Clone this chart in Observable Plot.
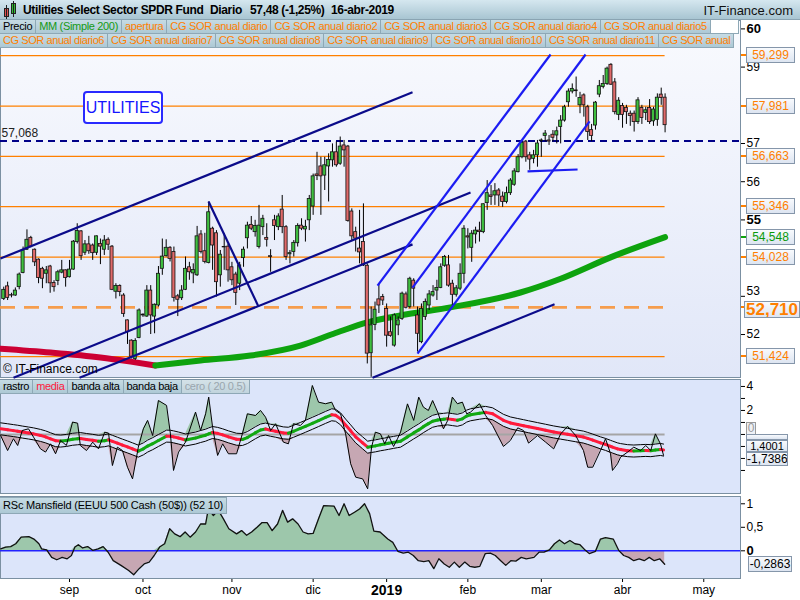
<!DOCTYPE html>
<html><head><meta charset="utf-8">
<script src="https://cdn.jsdelivr.net/npm/d3@7"></script>
<script src="https://cdn.jsdelivr.net/npm/@observablehq/plot@0.6"></script>
<style>
html,body{margin:0;padding:0;background:#fff;}
#root{position:relative;width:800px;height:600px;overflow:hidden;background:#fff;font-family:"Liberation Sans",Arial,Helvetica,sans-serif;color:#000;}
#root svg{position:absolute;left:0;}
.abs{position:absolute;}
.tabrow{position:absolute;left:0;display:flex;overflow:hidden;white-space:nowrap;}
.tab{flex:none;height:13px;line-height:13px;padding:0 3px;font-size:11px;letter-spacing:-0.33px;border-right:1px solid #8ea8b6;border-bottom:1px solid #8ea8b6;background:linear-gradient(#c6dbe4,#adc9d5);}
.tag{position:absolute;box-sizing:border-box;border:1px solid #8596aa;background:linear-gradient(#f8fafd,#dde5f1);text-align:center;font-size:12px;white-space:nowrap;overflow:hidden;}
</style></head><body><div id="root"></div>
<script>
// ---------------- DATA ----------------
const firstBar = -17; // trading-day index of first candle (0 = first session of September 2018)
const openV = [52.93,53.26,53.03,53.02,53.24,53.61,54.22,54.53,54.22,53.96,53.72,53.59,53.78,53.35,53.40,53.62,53.68,
53.50,53.70,54.42,54.70,54.14,54.36,54.33,54.14,54.37,54.22,
54.48,54.30,53.12,53.27,53.02,52.37,51.84,51.36,51.91,52.50,
52.47,53.15,52.47,52.76,53.72,54.05,54.27,54.16,53.00,52.95,
53.17,53.76,53.60,53.55,54.62,54.18,53.87,54.77,54.65,53.55,
54.28,54.30,53.76,53.57,53.33,54.00,54.52,54.87,54.68,54.29,
54.81,54.53,54.05,54.99,54.81,55.27,54.81,54.10,54.16,54.39,
54.85,54.75,54.99,55.35,56.19,56.40,56.16,56.40,56.56,56.77,
56.47,56.95,56.92,55.22,54.68,54.25,54.42,53.80,51.51,52.25,
52.92,52.98,52.67,52.06,51.71,52.24,52.41,53.05,52.72,53.41,
52.50,51.80,52.46,52.76,53.02,53.15,53.22,53.80,53.81,53.33,
53.04,53.20,53.59,54.57,54.27,54.62,54.72,54.68,55.44,55.64,
55.64,55.77,55.61,55.47,55.70,55.92,56.25,56.64,57.05,56.69,
56.60,56.69,57.06,57.20,57.08,57.23,57.21,57.43,57.60,58.08,
58.36,58.39,58.00,58.26,57.95,57.35,57.47,58.28,58.48,58.56,
59.06,58.60,57.75,57.98,57.93,57.78,57.78,57.56,57.93,57.80,
57.93,57.58,57.62,58.28,58.20];
const highV = [53.24,53.37,53.08,53.22,53.61,54.29,54.74,54.57,54.24,53.98,53.76,53.78,53.81,53.41,53.68,53.94,53.69,
53.94,54.46,54.90,54.72,54.46,54.57,54.37,54.58,54.50,54.59,
54.53,54.33,53.33,53.30,53.07,52.38,51.86,51.89,52.67,52.54,
53.28,53.28,52.80,53.78,54.50,54.48,54.30,54.29,53.05,53.28,
54.03,53.89,53.85,54.83,54.72,54.65,55.47,54.81,54.72,54.20,
54.64,54.36,53.89,53.63,53.89,54.29,54.94,55.09,54.99,55.38,
55.12,54.90,54.22,55.12,55.16,55.64,54.85,54.20,54.46,54.90,
55.03,54.99,55.64,56.20,56.77,56.64,56.64,56.73,56.99,57.04,
57.17,57.08,56.95,55.29,54.81,55.25,55.42,53.85,52.72,52.85,
53.33,53.05,52.80,52.46,52.54,52.46,53.11,53.11,53.50,53.46,
52.72,52.80,52.93,53.15,53.28,53.42,53.85,54.07,54.07,53.42,
53.28,53.85,54.85,54.77,54.72,54.81,54.94,55.42,56.03,55.90,
55.95,55.82,55.73,55.86,56.08,56.34,56.71,57.05,57.08,56.77,
56.82,57.08,57.12,57.34,57.21,57.34,57.43,57.73,58.00,58.43,
58.56,58.74,58.34,58.30,58.00,57.50,58.10,58.65,58.78,59.00,
59.09,58.70,58.20,58.05,58.00,57.85,57.85,58.20,58.00,57.95,
58.15,57.95,58.30,58.45,58.30];
const lowV = [52.89,52.89,52.96,53.00,53.17,53.59,54.20,54.27,53.78,53.33,53.20,53.33,53.08,53.11,53.28,53.59,53.24,
53.48,53.68,54.37,53.94,54.07,54.10,53.94,54.07,53.83,54.07,
54.20,53.15,52.93,52.99,52.45,51.74,51.36,51.32,51.89,52.45,
52.45,52.00,52.02,52.72,53.55,54.03,53.90,52.85,52.47,52.89,
53.15,53.42,53.33,53.52,54.11,53.85,53.85,53.68,52.98,53.24,
53.68,53.37,53.28,52.76,53.15,53.76,54.24,54.72,54.55,54.24,
54.59,54.29,53.63,54.46,54.72,54.64,53.94,53.85,54.03,54.29,
54.72,54.42,54.72,55.12,56.03,55.12,55.77,55.47,56.38,56.38,
56.43,56.38,54.94,54.46,54.16,53.85,53.78,51.23,50.88,52.10,
52.55,52.76,51.67,51.93,51.67,51.97,52.37,52.67,52.67,52.72,
51.54,51.76,52.37,52.63,52.98,52.89,53.20,53.76,53.24,52.72,
52.98,53.15,53.33,54.24,53.89,54.37,54.42,54.64,55.25,55.38,
55.38,55.35,55.33,55.42,55.64,55.88,56.23,56.60,56.51,56.30,
56.47,56.38,56.64,57.04,56.95,57.04,56.99,56.99,57.56,57.95,
58.30,58.21,57.78,57.69,57.08,57.05,57.35,58.20,58.43,58.52,
58.52,57.75,57.60,57.40,57.50,57.45,57.30,57.50,57.50,57.60,
57.50,57.45,57.45,58.00,57.28];
const closeV = [53.17,52.96,53.02,53.15,53.57,54.20,54.48,54.30,53.89,53.48,53.46,53.68,53.34,53.24,53.63,53.68,53.48,
53.70,54.43,54.71,54.05,54.36,54.18,54.13,54.57,54.30,54.46,
54.35,53.17,53.27,53.11,52.54,52.06,51.42,51.83,52.63,52.52,
53.15,52.50,52.78,53.59,54.04,54.27,53.98,52.96,52.91,53.15,
53.72,53.63,53.69,54.57,54.16,53.90,55.20,54.33,53.37,54.09,
54.29,53.68,53.42,53.09,53.81,54.22,54.85,54.77,54.84,54.85,
55.03,54.48,54.03,54.84,55.09,54.81,54.03,54.13,54.40,54.84,
54.77,54.82,55.55,56.14,56.15,56.14,56.43,56.57,56.77,56.43,
56.92,56.82,54.97,54.57,54.51,54.15,53.81,51.50,52.24,52.65,
52.76,52.89,51.97,51.96,52.50,52.37,53.07,52.70,53.46,53.20,
52.02,52.67,52.85,53.05,53.11,53.22,53.76,54.03,53.28,53.04,
53.21,53.59,54.77,54.54,54.64,54.72,54.68,55.41,55.70,55.60,
55.75,55.64,55.47,55.70,56.03,56.27,56.64,57.02,56.64,56.58,
56.69,57.00,57.08,57.26,57.05,57.15,57.32,57.60,57.95,58.36,
58.43,58.37,58.19,58.00,57.30,57.20,58.07,58.50,58.56,58.96,
58.54,57.82,58.12,57.75,57.82,57.72,57.56,58.13,57.67,57.87,
57.56,57.89,58.20,58.19,57.48];

const monthIdx = [0, 19, 42, 63, 82, 103, 122, 143, 164];
const monthLabel = ["sep", "oct", "nov", "dic", "2019", "feb", "mar", "abr", "may"];

const pivotLevels = [59.299, 57.981, 56.663, 55.346, 54.028, 51.424];
const pivotMain = 52.710;
const refLevel = 57.068;

const ma200RedIdx = [-17.8, -4.9, 8.0, 15.8, 22.2];
const ma200RedVal = [51.63, 51.53, 51.40, 51.29, 51.19];
const ma200GreenIdx = [22.2, 33.9, 46.8, 59.7, 68.3, 77.0, 85.6, 98.5, 116.6, 127.0, 139.9, 154];
const ma200GreenVal = [51.19, 51.32, 51.45, 51.71, 52.02, 52.32, 52.50, 52.71, 53.10, 53.46, 54.02, 54.548];

// trend lines: [index1, price1, index2, price2]
const navyLines = [[-17.84,53.99,88.70,58.34],[-14.48,50.87,103.7,55.72],[2.59,50.87,88.70,54.36],[35.95,55.48,48.88,52.73],[78.36,50.87,125.42,52.79]];
const blueLines = [[79.65,53.28,124.39,59.33],[88.70,53.23,133.44,59.33],[89.99,51.50,134.47,57.58],[118.44,56.27,131.37,56.32]];

const oscIdx = [-17.8,-16.0,-14.5,-13.4,-12.2,-10.6,-9.3,-7.5,-6.2,-4.9,-3.6,-2.3,-0.8,0.8,2.1,2.8,4.4,6.0,7.5,9.1,10.1,11.1,12.4,13.7,15.0,16.3,17.8,19.1,20.2,21.5,23.0,25.1,26.1,26.9,28.2,30.0,32.6,33.9,35.2,36.0,37.0,38.3,39.6,41.1,43.2,44.7,46.0,48.1,49.4,50.7,52.0,53.3,55.3,56.6,57.9,59.7,61.0,62.8,64.4,66.2,67.8,68.8,70.1,71.4,72.7,74.0,75.8,77.1,78.1,79.1,80.4,81.5,82.5,83.8,84.8,85.6,87.4,89.0,90.3,91.5,92.8,93.9,95.2,96.7,97.8,99.0,100.3,101.6,102.7,103.7,106.0,107.6,109.4,112.2,114.0,115.9,117.4,118.7,121.0,123.1,125.2,127.0,128.8,130.9,132.9,134.0,135.3,137.3,138.6,139.9,140.4,141.7,142.5,144.3,145.9,147.7,149.0,150.3,151.5,152.8,153.6];
const oscRaw = [-0.09,-1.34,-0.36,-0.92,0.33,0.47,-0.22,-1.2,-1.47,-0.78,-1.61,-0.5,-0.92,1.03,0.94,-0.92,-1.34,-0.64,-1.2,0.19,0.11,-2.59,-1.06,-1.34,-2.73,-3.7,-1.06,0.47,1.17,-0.09,2.83,2.42,0.05,-3.0,-1.47,-0.64,1.86,0.33,1.72,3.11,0.61,-1.75,-0.78,-1.61,-1.61,0.05,1.72,1.58,2.0,1.44,0.33,0.89,-0.64,-0.78,0.89,0.75,1.17,4.08,2.69,2.56,2.69,2.0,1.72,0.05,-2.44,-3.56,-3.7,-4.53,-1.06,0.19,0.05,-0.78,-0.09,-1.0,-0.36,0.19,2.55,1.17,3.11,2.28,2.0,2.83,1.86,0.47,1.17,3.11,2.56,2.69,1.72,1.86,2.56,1.58,0.75,-1.0,-0.5,0.55,0.33,-0.72,-0.09,-0.64,-1.2,0.05,0.67,-0.09,-1.34,-2.73,-2.73,-1.34,-0.36,-1.61,-3.0,-2.44,-1.89,-1.47,-1.06,-1.34,-0.92,-1.34,0.05,-0.78,-1.7386];
const oscMedia = [0.47,0.39,0.32,0.27,0.2,0.12,0.05,-0.08,-0.2,-0.36,-0.52,-0.55,-0.5,-0.4,-0.36,-0.34,-0.42,-0.49,-0.57,-0.52,-0.45,-0.57,-0.73,-0.89,-1.04,-1.2,-1.39,-1.2,-0.97,-0.77,-0.5,-0.14,-0.15,-0.2,-0.3,-0.46,-0.3,-0.17,-0.06,0.05,0.16,0.09,-0.03,-0.2,-0.4,-0.42,-0.26,0.15,0.37,0.45,0.35,0.27,0.13,0.1,0.26,0.5,0.68,0.93,1.16,1.42,1.64,1.6,1.3,0.78,0.3,-0.2,-0.7,-1.06,-1.0,-0.95,-0.86,-0.8,-0.74,-0.66,-0.6,-0.56,-0.2,0.13,0.38,0.65,0.9,1.1,1.2,1.26,1.3,1.24,1.18,1.3,1.53,1.64,1.77,1.84,1.72,1.18,0.96,0.83,0.73,0.64,0.49,0.35,0.21,0.11,0.01,-0.11,-0.22,-0.33,-0.47,-0.7,-0.83,-0.99,-1.05,-1.2,-1.26,-1.35,-1.38,-1.35,-1.33,-1.35,-1.3,-1.25,-1.3];
const bandWidth = 0.5; // "cero ( 20 0.5)"
const oscTicks = [-3, -2, -1, 0, 1, 2, 3, 4];
const oscLabelled = [2, 4];
const oscTagLabel = "1,4001";

const rscIdx = [-17.8,-16.5,-15.2,-13.9,-12.5,-10.5,-9.2,-7.9,-7.2,-5.9,-4.6,-3.3,-1.9,-0.6,0.5,1.4,2.3,3.4,4.7,6.0,7.4,8.7,10.0,11.3,13.3,15.3,16.6,18.0,19.3,20.6,21.9,23.3,24.6,25.9,27.2,28.6,29.9,31.2,32.6,33.9,35.2,35.9,37.2,38.5,39.8,41.2,43.2,44.5,45.8,47.1,48.5,49.8,51.1,52.4,53.8,55.1,56.4,57.7,59.1,60.4,61.7,63.0,64.4,65.7,68.4,69.7,71.0,72.3,73.7,75.0,76.3,77.6,78.7,80.3,82.3,83.6,84.9,86.3,87.6,88.9,90.2,91.6,92.9,94.2,95.5,96.9,98.2,99.5,100.8,102.2,103.5,104.8,106.1,107.5,108.8,110.1,111.5,112.8,114.1,115.4,116.8,118.1,120.1,121.4,122.7,124.1,125.4,126.7,128.0,129.4,130.7,132.0,133.4,134.4,136.0,137.3,138.6,140.6,142.0,143.3,144.6,145.9,147.3,148.6,149.9,151.2,152.6,153.9];
const rscVal = [0.04,0.08,0.09,0.15,0.29,0.30,0.25,0.15,0.04,0.02,-0.14,-0.19,-0.14,-0.17,-0.10,0.08,0.13,0.06,0.09,0.01,0.04,0.09,-0.03,-0.21,-0.31,-0.42,-0.51,-0.38,-0.28,-0.24,-0.10,0.08,0.15,0.47,0.36,0.30,0.40,0.29,0.40,0.57,0.57,0.89,0.75,0.86,0.68,0.47,0.36,0.43,0.33,0.40,0.50,0.60,0.60,0.43,0.57,0.86,0.61,0.68,0.57,0.40,0.36,0.37,0.68,0.96,0.95,0.75,1.0,0.75,0.82,0.89,1.0,0.79,0.42,0.40,0.25,0.18,-0.01,-0.05,-0.03,-0.10,-0.21,-0.23,-0.21,-0.38,-0.17,-0.28,-0.35,-0.24,-0.35,-0.24,-0.33,-0.35,-0.33,-0.06,-0.05,-0.10,-0.21,-0.31,-0.21,-0.22,-0.14,-0.17,-0.14,-0.03,-0.03,0.02,0.15,0.23,0.15,0.22,0.15,0.13,0.01,-0.06,-0.01,0.25,0.28,0.25,0.01,-0.10,-0.14,-0.21,-0.17,-0.21,-0.14,-0.21,-0.17,-0.2863];
const rscTicks = [0, 0.5, 1];
const priceTicks = [52, 53, 55, 56, 57, 59, 60];
const boldPrice = ["60", "55"];

const titleParts = ["Utilities Select Sector SPDR Fund", "Diario", "57,48 (-1,25%)", "16-abr-2019"];
const tabsRow1 = [["Precio","#000"],["MM (Simple 200)","#159a15"],["apertura","#ff7f00"],["CG SOR anual diario","#ff7f00"],["CG SOR anual diario2","#ff7f00"],["CG SOR anual diario3","#ff7f00"],["CG SOR anual diario4","#ff7f00"],["CG SOR anual diario5","#ff7f00"]];
const tabsRow2 = [["CG SOR anual diario6","#ff7f00"],["CG SOR anual diario7","#ff7f00"],["CG SOR anual diario8","#ff7f00"],["CG SOR anual diario9","#ff7f00"],["CG SOR anual diario10","#ff7f00"],["CG SOR anual diario11","#ff7f00"],["CG SOR anual","#ff7f00"]];
const oscTabs = [["rastro","#000"],["media","#ff1a3c"],["banda alta","#000"],["banda baja","#000"],["cero ( 20 0.5)","#9aa6ae"]];

// ---------------- HELPERS ----------------
const root = document.getElementById("root");
function el(css, text, parent = root, cls = "abs") {
  const d = document.createElement("div");
  d.className = cls;
  d.style.cssText += css;
  if (text != null) d.textContent = text;
  parent.appendChild(d);
  return d;
}
const X_DOMAIN = [-17.84, 173.5];
const FONT = '"Liberation Sans", Arial, Helvetica, sans-serif';
const fmt = d => String(d).replace(".", ",");
const fmt3 = d => d.toFixed(3).replace(".", ",");
const lastBar = firstBar + openV.length - 1;
const GREEN_FILL = "#9dc7ab", PINK_FILL = "#c6a7b3";
const baseStyle = {background: "none", fontFamily: FONT, fontSize: "12px", color: "#000", overflow: "visible"};
function yFn(p) { const s = p.scale("y"); return s.apply ? (v => s.apply(v)) : d3.scaleLinear(s.domain, s.range); }

// panel backgrounds
el("left:0;top:20px;width:740px;height:357px;background:linear-gradient(#f9fafe,#e1e7f8);");
el("left:0;top:379px;width:740px;height:114px;background:#dce5fa;");
el("left:0;top:496px;width:740px;height:82px;background:#dce5fa;");

// ---------------- MAIN PRICE PANEL ----------------
const candles = openV.map((o, k) => ({i: firstBar + k, o, h: highV[k], l: lowV[k], c: closeV[k]}));
const ma200Red = ma200RedIdx.map((i, k) => ({i, v: ma200RedVal[k]}));
const ma200Green = ma200GreenIdx.map((i, k) => ({i, v: ma200GreenVal[k]}));
const linkOpts = {x1: d => d[0], y1: d => d[1], x2: d => d[2], y2: d => d[3]};

const main = Plot.plot({
  width: 800, height: 378, marginLeft: 0, marginRight: 60, marginTop: 20, marginBottom: 1,
  style: baseStyle,
  color: {type: "identity"},
  x: {domain: X_DOMAIN, axis: null},
  y: {domain: [50.875, 60.22], axis: "right", ticks: priceTicks, tickFormat: fmt, tickSize: 4, tickPadding: 2, label: null},
  marks: [
    Plot.frame({stroke: "#7b90a2"}),
    Plot.ruleY(pivotLevels, {x1: X_DOMAIN[0], x2: lastBar, stroke: "#ff8000", strokeWidth: 1.2}),
    Plot.ruleY([pivotMain], {x1: X_DOMAIN[0], x2: lastBar, stroke: "#f7953a", strokeWidth: 2.6, strokeDasharray: "15,9", strokeOpacity: 0.9}),
    Plot.ruleY([refLevel], {x1: X_DOMAIN[0], x2: X_DOMAIN[1], stroke: "#000088", strokeWidth: 2, strokeDasharray: "7,5"}),
    Plot.line(ma200Red, {x: "i", y: "v", stroke: "#cc0033", strokeWidth: 6, curve: "monotone-x"}),
    Plot.line(ma200Green, {x: "i", y: "v", stroke: "#0ea30e", strokeWidth: 6, curve: "monotone-x"}),
    Plot.ruleX(candles, {x: "i", y1: "l", y2: "h", stroke: "#000", strokeWidth: 1}),
    Plot.rect(candles, {x1: d => d.i - 0.4, x2: d => d.i + 0.4, y1: "o", y2: "c",
      fill: d => d.c >= d.o ? "#3fbf3f" : "#e06a6a", stroke: "#111", strokeWidth: 0.8}),
    Plot.link(navyLines, {...linkOpts, stroke: "#0b0b8a", strokeWidth: 2.2}),
    Plot.link(blueLines, {...linkOpts, stroke: "#1c1cf2", strokeWidth: 2.2}),
    Plot.text([refLevel], {x: X_DOMAIN[0], y: d => d, text: d => fmt(d), dx: 1, dy: -8, textAnchor: "start", fontSize: 12, fill: "#222"})
  ]
});
main.style.top = "0px";
root.appendChild(main);
main.querySelectorAll('[aria-label="y-axis tick label"] text').forEach(t => {
  if (boldPrice.includes(t.textContent)) { t.style.fontWeight = "bold"; t.style.fontSize = "13px"; }
  if (t.textContent === "53") t.setAttribute("dy", "-0.45em");
});

// ---------------- OSCILLATOR PANEL ----------------
const oscData = oscIdx.map((i, k) => ({i, r: oscRaw[k], m: oscMedia[k]}));
const mediaSegs = d3.pairs(oscData).map(([a, b]) => ({x1: a.i, y1: a.m, x2: b.i, y2: b.m, up: b.m >= a.m}));
const osc = Plot.plot({
  width: 800, height: 116, marginLeft: 0, marginRight: 60, marginTop: 1, marginBottom: 1,
  style: baseStyle,
  color: {type: "identity"},
  x: {domain: X_DOMAIN, axis: null},
  y: {domain: [-4.92, 4.58], axis: "right", ticks: oscTicks, tickFormat: d => oscLabelled.includes(d) ? fmt(d) : "", tickSize: 4, tickPadding: 2, label: null},
  marks: [
    Plot.frame({stroke: "#7b90a2"}),
    Plot.areaY(oscData, {x: "i", y1: d => d.m + bandWidth, y2: d => Math.max(d.r, d.m + bandWidth), fill: GREEN_FILL}),
    Plot.areaY(oscData, {x: "i", y1: d => d.m - bandWidth, y2: d => Math.min(d.r, d.m - bandWidth), fill: PINK_FILL}),
    Plot.ruleY([0], {x1: X_DOMAIN[0], x2: lastBar, stroke: "#a5a5a5", strokeWidth: 2}),
    Plot.line(oscData, {x: "i", y: d => d.m + bandWidth, stroke: "#000", strokeWidth: 1}),
    Plot.line(oscData, {x: "i", y: d => d.m - bandWidth, stroke: "#000", strokeWidth: 1}),
    Plot.link(mediaSegs, {x1: "x1", y1: "y1", x2: "x2", y2: "y2", stroke: d => d.up ? "#12a812" : "#ff1a3c", strokeWidth: 3, strokeLinecap: "round"}),
    Plot.line(oscData, {x: "i", y: "r", stroke: "#000", strokeWidth: 1})
  ]
});
osc.style.top = "378px";
root.appendChild(osc);

// ---------------- RSC MANSFIELD PANEL ----------------
const rsc = rscIdx.map((i, k) => ({i, v: rscVal[k]}));
const rscPlot = Plot.plot({
  width: 800, height: 106, marginLeft: 0, marginRight: 60, marginTop: 2, marginBottom: 22,
  style: baseStyle,
  x: {domain: X_DOMAIN, ticks: monthIdx, tickFormat: i => monthLabel[monthIdx.indexOf(i)], tickSize: 4, tickPadding: 3, label: null},
  y: {domain: [-0.589, 1.155], axis: "right", ticks: rscTicks, tickFormat: fmt, tickSize: 4, tickPadding: 2, label: null},
  marks: [
    Plot.frame({stroke: "#7b90a2"}),
    Plot.areaY(rsc, {x: "i", y1: 0, y2: d => Math.max(d.v, 0), fill: GREEN_FILL}),
    Plot.areaY(rsc, {x: "i", y1: 0, y2: d => Math.min(d.v, 0), fill: PINK_FILL}),
    Plot.ruleY([0], {stroke: "#2222ff", strokeWidth: 1.5}),
    Plot.line(rsc, {x: "i", y: "v", stroke: "#111", strokeWidth: 1.3})
  ]
});
rscPlot.style.top = "494px";
root.appendChild(rscPlot);
rscPlot.querySelectorAll('[aria-label="x-axis tick label"] text').forEach(t => {
  if (t.textContent === "2019") { t.style.fontWeight = "bold"; t.style.fontSize = "14px"; }
});
rscPlot.querySelectorAll('[aria-label="y-axis tick label"] text').forEach(t => {
  if (t.textContent === "0") { t.style.fontWeight = "bold"; t.style.fontSize = "13px"; }
});

// ---------------- HEADER & LEGENDS ----------------
const header = el("left:0;top:0;width:800px;height:20px;box-sizing:border-box;background:linear-gradient(#d5e7ef,#a8c5d2);border-bottom:1px solid #8aa4b2;");
el("left:4px;top:8px;width:5px;height:9px;background:#e05050;border:1px solid #222;box-sizing:border-box;", null, header);
el("left:6px;top:5px;width:1px;height:14px;background:#222;", null, header);
el("left:11px;top:3px;width:5px;height:11px;background:#30c030;border:1px solid #222;box-sizing:border-box;", null, header);
el("left:13px;top:1px;width:1px;height:16px;background:#222;", null, header);
[[23, 0], [210, 1], [250, 2], [331, 3]].forEach(([x, k]) =>
  el(`left:${x}px;top:3px;font-size:12px;font-weight:bold;letter-spacing:-0.35px;white-space:nowrap;`, titleParts[k], header));
el("right:7px;top:3px;font-size:13px;white-space:nowrap;color:#111;", "IT-Finance.com", header);

function tabRow(top, width, tabs, filler, spacing) {
  const row = el(`top:${top}px;width:${width}px;height:14px;`, null, root, "tabrow");
  tabs.forEach(([t, c]) => el(`color:${c};` + (spacing != null ? `letter-spacing:${spacing}px;` : ""), t, row, "tab"));
  if (filler) el("flex:1;background:#fff;border-right:1px solid #8ea8b6;border-bottom:1px solid #8ea8b6;", null, row, "");
  return row;
}
tabRow(20, 739, tabsRow1, true);
tabRow(34, 739, tabsRow2, false, -0.42);
const oscRow = tabRow(380, 262, oscTabs, false);
oscRow.lastChild.style.background = "linear-gradient(#d4e2e8,#c1d4dd)";
el("left:0;top:497px;height:15px;line-height:15px;padding:0 3px;font-size:11px;letter-spacing:-0.2px;white-space:nowrap;background:linear-gradient(#c6dbe4,#adc9d5);border:1px solid #8ea8b6;border-left:none;",
  "RSc Mansfield (EEUU 500 Cash (50$)) (52 10)");

// main panel annotations
el("left:83px;top:91px;width:80px;height:33px;box-sizing:border-box;border:2px solid #2a2aff;border-radius:4px;background:#fff;color:#1616ff;font-size:16px;line-height:29px;text-align:center;", "UTILITIES");
el("left:3px;top:362px;font-size:12px;white-space:nowrap;", "© IT-Finance.com");

// right-axis value tags
const yMain = yFn(main);
function tagBox(left, cy, w, h, text, color, extra = "") {
  return el(`left:${left}px;top:${Math.round(cy - h / 2)}px;width:${w}px;height:${h}px;line-height:${h - 2}px;color:${color};${extra}`, text, root, "tag");
}
pivotLevels.forEach(v => {
  const y = yMain(v);
  el(`left:741px;top:${Math.round(y - 1)}px;width:5px;height:2px;background:#ff8000;`);
  tagBox(746, y, 49, 16, fmt3(v), "#ff7f00");
});
{
  const v = ma200GreenVal[ma200GreenVal.length - 1], y = yMain(v);
  el(`left:741px;top:${Math.round(y - 1)}px;width:5px;height:2px;background:#0ea30e;`);
  tagBox(746, y, 49, 16, fmt3(v), "#0a9a0a");
}
{
  const y = yMain(pivotMain);
  el(`left:741px;top:${Math.round(y - 1)}px;width:4px;height:2px;background:#ff8000;`);
  tagBox(744, y + 2.5, 56, 17, fmt3(pivotMain), "#ff7f00", "font-size:17px;font-weight:bold;");
}

// oscillator tags
const yOsc = yFn(osc);
{
  const y0 = 378 + yOsc(0);
  tagBox(746, y0 - 5, 10, 13, "0", "#999", "border-color:#9a9a9a;background:#eef1f6;");
  const yr = 378 + yOsc(oscRaw[oscRaw.length - 1]);
  tagBox(746, yr - 18, 42, 6, "", "#000");
  tagBox(746, yr - 9, 42, 12, oscTagLabel, "#000", "font-size:11px;");
  tagBox(746, yr + 4, 42, 14, fmt(oscRaw[oscRaw.length - 1]), "#000");
}
// rsc tag
const yR = yFn(rscPlot);
tagBox(748, 494 + yR(rscVal[rscVal.length - 1]), 44, 16, fmt(rscVal[rscVal.length - 1]), "#000");
</script></body></html>
